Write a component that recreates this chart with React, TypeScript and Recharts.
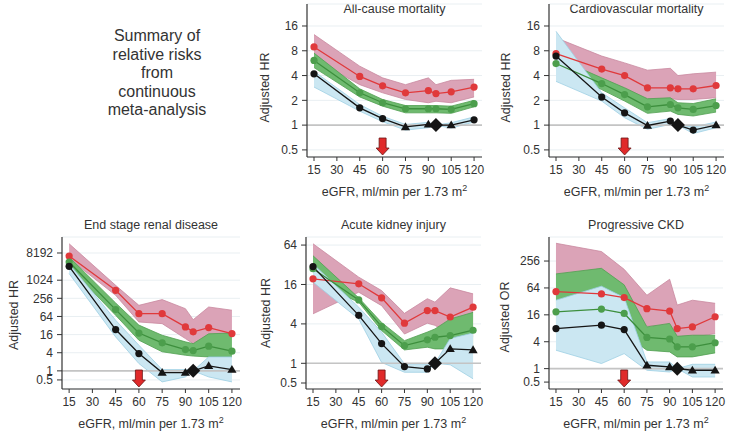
import React from 'react';
import { ComposedChart, Line, Area, XAxis, YAxis, CartesianGrid, ReferenceLine, ReferenceDot } from 'recharts';

// ---------- shared categories / ticks ----------
const egfr = [15, 45, 60, 75, 90, 95, 105, 120];
const xTicks = [15, 30, 45, 60, 75, 90, 105, 120];
const refEgfr = 95;
const arrowEgfr = 60;
const xLabelText = 'eGFR, ml/min per 1.73 m';
const summaryLines = ['Summary of', 'relative risks', 'from', 'continuous', 'meta-analysis'];

// ---------- All-cause mortality ----------
const acmRed = [8.9, 3.9, 3.0, 2.47, 2.63, 2.42, 2.54, 2.9];
const acmRedLo = [6.3, 3.1, 2.47, 2.05, 1.87, 1.95, 1.87, 2.2];
const acmRedHi = [12.6, 5.2, 3.75, 3.1, 3.75, 3.1, 3.5, 3.6];
const acmGreen = [6.1, 2.47, 1.87, 1.58, 1.58, 1.58, 1.55, 1.82];
const acmGreenLo = [5.0, 2.2, 1.7, 1.41, 1.41, 1.41, 1.39, 1.67];
const acmGreenHi = [7.5, 2.76, 2.05, 1.73, 1.73, 1.73, 1.7, 2.0];
const acmBlack = [4.2, 1.62, 1.2, 0.95, 1.02, 1, 1.0, 1.16];
const acmBlackLo = [2.9, 1.48, 1.1, 0.87, 0.93, 1, 0.92, 1.09];
const acmBlackHi = [4.5, 1.78, 1.28, 1.02, 1.08, 1, 1.07, 1.26];
const acmTicks = [0.5, 1, 2, 4, 8, 16];

// ---------- Cardiovascular mortality ----------
const cvmRed = [7.4, 4.8, 4.0, 2.84, 2.84, 2.76, 2.76, 3.03];
const cvmRedLo = [5.2, 3.4, 2.84, 2.09, 2.09, 2.05, 2.05, 2.15];
const cvmRedHi = [11.5, 6.9, 5.7, 4.65, 4.9, 4.0, 4.2, 4.4];
const cvmGreen = [5.6, 3.2, 2.35, 1.67, 1.78, 1.62, 1.55, 1.73];
const cvmGreenLo = [4.6, 2.7, 1.96, 1.39, 1.48, 1.35, 1.29, 1.44];
const cvmGreenHi = [6.6, 3.75, 2.84, 2.09, 2.15, 1.87, 1.83, 2.09];
const cvmBlack = [6.9, 2.19, 1.41, 0.99, 1.12, 1, 0.87, 1.0];
const cvmBlackLo = [3.4, 1.96, 1.23, 0.89, 1.02, 1, 0.79, 0.93];
const cvmBlackHi = [13.8, 2.47, 1.62, 1.07, 1.2, 1, 0.95, 1.09];
const cvmTicks = [0.5, 1, 2, 4, 8, 16];

// ---------- End stage renal disease ----------
const esrdRed = [6500, 471, 79, 79, 28.8, 19.7, 27.3, 17.3];
const esrdRedLo = [5300, 322, 42, 37, 11.8, 8, 16, 14];
const esrdRedHi = [16600, 690, 150, 232, 116, 50, 132, 103];
const esrdGreen = [4100, 108, 18, 8.5, 5.1, 4.7, 6.6, 4.5];
const esrdGreenLo = [2800, 70, 10.4, 4.3, 3.3, 3.1, 2.9, 2.8];
const esrdGreenHi = [6000, 180, 33, 15.2, 9.2, 8, 17, 18];
const esrdBlack = [2950, 23.5, 3.75, 0.88, 0.88, 1, 1.46, 1.1];
const esrdBlackLo = [1700, 13.4, 1.75, 0.43, 0.63, 1, 0.63, 0.43];
const esrdBlackHi = [3600, 48, 7.1, 1.1, 1.1, 1, 2.9, 2.9];
const esrdTicks = [0.5, 1, 4, 16, 64, 256, 1024, 8192];

// ---------- Acute kidney injury ----------
const akiRed = [19.5, 16.4, 10, 4.1, 6.4, 6.4, 5.1, 7.2];
const akiRedLo = [5.7, 12.2, 7.6, 2.8, 4.1, 3.8, 2.75, 2.56];
const akiRedHi = [67, 20.7, 12.9, 5.8, 9.7, 8.6, 14.2, 11.5];
const akiGreen = [27.8, 9.3, 3.64, 1.86, 2.28, 2.5, 2.65, 3.2];
const akiGreenLo = [17.4, 8.6, 3.16, 1.6, 1.76, 1.66, 1.66, 1.76];
const akiGreenHi = [44, 10, 4.2, 2.22, 3.0, 3.35, 4.76, 6.0];
const akiBlack = [30, 5.4, 2.0, 0.89, 0.82, 1, 1.66, 1.6];
const akiBlackLo = [17.4, 4.76, 1.03, 0.73, 0.73, 1, 0.95, 0.58];
const akiBlackHi = [33, 7.2, 3.0, 0.98, 0.98, 1, 2.4, 2.9];
const akiTicks = [0.5, 1, 4, 16, 64];

// ---------- Progressive CKD ----------
const pckdRed = [53, 47, 39, 22, 19.4, 7.9, 8.6, 14.5];
const pckdRedLo = [30, 28, 25, 8.9, 9.4, 5.1, 5.0, 6.1];
const pckdRedHi = [640, 418, 167, 44, 100, 26.5, 34, 29];
const pckdGreen = [18.7, 21.5, 17.2, 5.0, 4.6, 3.07, 3.07, 3.8];
const pckdGreenLo = [6, 6, 6, 2.58, 2.37, 1.83, 1.83, 2.25];
const pckdGreenHi = [132, 176, 75, 8.6, 10.3, 5.3, 5.6, 5.6];
const pckdBlack = [7.9, 9.4, 7.5, 1.19, 1.09, 1, 0.92, 0.92];
const pckdBlackLo = [2.58, 1.3, 2.17, 0.92, 0.84, 1, 0.65, 0.65];
const pckdBlackHi = [34, 70, 39, 1.41, 1.41, 1, 1.25, 1.25];
const pckdTicks = [0.5, 1, 4, 16, 64, 256];

// ---------- styling ----------
const FONT = '"Liberation Sans", Arial, Helvetica, sans-serif';
const TEXT = '#333';
const RED = '#e0393b';
const RED_BAND = '#dba3b7';
const RED_BAND_EDGE = '#c9899f';
const GREEN = '#3d8f3d';
const GREEN_DOT = '#4c9e4c';
const GREEN_BAND = '#6fba6f';
const GREEN_BAND_EDGE = '#52a052';
const BLACK = '#151515';
const BLUE_BAND = '#cbe7f2';
const BLUE_BAND_EDGE = '#9dcfe3';

type Panel = {
  title: string;
  yLabel: string;
  ticks: number[];
  domain: [number, number];
  plot: { left: number; top: number; width: number; height: number };
  titleY: number;
  yLabelDist: number;
  yLabelShift: number;
  red: number[]; redLo: number[]; redHi: number[];
  green: number[]; greenLo: number[]; greenHi: number[];
  black: number[]; blackLo: number[]; blackHi: number[];
};

const panels: Panel[] = [
  {
    title: 'All-cause mortality', yLabel: 'Adjusted HR', ticks: acmTicks, domain: [0.41, 29.6],
    plot: { left: 307, top: 4, width: 175, height: 153 }, titleY: 9, yLabelDist: 42, yLabelShift: 7,
    red: acmRed, redLo: acmRedLo, redHi: acmRedHi, green: acmGreen, greenLo: acmGreenLo, greenHi: acmGreenHi,
    black: acmBlack, blackLo: acmBlackLo, blackHi: acmBlackHi,
  },
  {
    title: 'Cardiovascular mortality', yLabel: 'Adjusted HR', ticks: cvmTicks, domain: [0.41, 29.6],
    plot: { left: 549, top: 4, width: 175, height: 153 }, titleY: 9, yLabelDist: 43, yLabelShift: 7,
    red: cvmRed, redLo: cvmRedLo, redHi: cvmRedHi, green: cvmGreen, greenLo: cvmGreenLo, greenHi: cvmGreenHi,
    black: cvmBlack, blackLo: cvmBlackLo, blackHi: cvmBlackHi,
  },
  {
    title: 'End stage renal disease', yLabel: 'Adjusted HR', ticks: esrdTicks, domain: [0.25, 27800],
    plot: { left: 62, top: 237, width: 178, height: 152 }, titleY: 225, yLabelDist: 48, yLabelShift: 2,
    red: esrdRed, redLo: esrdRedLo, redHi: esrdRedHi, green: esrdGreen, greenLo: esrdGreenLo, greenHi: esrdGreenHi,
    black: esrdBlack, blackLo: esrdBlackLo, blackHi: esrdBlackHi,
  },
  {
    title: 'Acute kidney injury', yLabel: 'Adjusted HR', ticks: akiTicks, domain: [0.405, 85],
    plot: { left: 306, top: 237, width: 175, height: 152 }, titleY: 225, yLabelDist: 40, yLabelShift: 0,
    red: akiRed, redLo: akiRedLo, redHi: akiRedHi, green: akiGreen, greenLo: akiGreenLo, greenHi: akiGreenHi,
    black: akiBlack, blackLo: akiBlackLo, blackHi: akiBlackHi,
  },
  {
    title: 'Progressive CKD', yLabel: 'Adjusted OR', ticks: pckdTicks, domain: [0.35, 884],
    plot: { left: 549, top: 237, width: 174, height: 152 }, titleY: 225, yLabelDist: 44, yLabelShift: 4,
    red: pckdRed, redLo: pckdRedLo, redHi: pckdRedHi, green: pckdGreen, greenLo: pckdGreenLo, greenHi: pckdGreenHi,
    black: pckdBlack, blackLo: pckdBlackLo, blackHi: pckdBlackHi,
  },
];

const X_DOMAIN: [number, number] = [10.4, 125.2];
const Y_AXIS_W = 60;
const M_TOP = 5;
const M_RIGHT = 10;
const X_AXIS_H = 50;
const TICK_FS = 12;

const circleDot = (color: string, prefix: string) => (props: any) => {
  const { cx, cy, index } = props;
  if (cx == null || cy == null) return <g key={`${prefix}-${index}`} />;
  return <circle key={`${prefix}-${index}`} cx={cx} cy={cy} r={3.6} fill={color} stroke="none" />;
};

const blackDot = (prefix: string) => (props: any) => {
  const { cx, cy, index, payload } = props;
  const key = `${prefix}-${index}`;
  if (cx == null || cy == null) return <g key={key} />;
  if (payload.x === refEgfr) {
    const s = 7;
    return <path key={key} d={`M${cx},${cy - s} L${cx + s},${cy} L${cx},${cy + s} L${cx - s},${cy} Z`} fill={BLACK} />;
  }
  if (payload.bLo <= 1 && payload.bHi >= 1) {
    return <path key={key} d={`M${cx},${cy - 4.6} L${cx + 4.6},${cy + 3.2} L${cx - 4.6},${cy + 3.2} Z`} fill={BLACK} />;
  }
  return <circle key={key} cx={cx} cy={cy} r={3.6} fill={BLACK} />;
};

const ArrowShape = (props: any) => {
  const { cx, cy } = props;
  if (cx == null || cy == null) return <g />;
  const d = `M${cx - 3.5},${cy - 19} L${cx + 3.5},${cy - 19} L${cx + 3.5},${cy - 9} L${cx + 6.5},${cy - 9} L${cx},${cy - 2} L${cx - 6.5},${cy - 9} L${cx - 3.5},${cy - 9} Z`;
  return <path d={d} fill="#e02a2a" stroke="#6a1515" strokeWidth={0.8} />;
};

function PanelChart({ p, idx }: { p: Panel; idx: number }) {
  const rows = egfr.map((x, i) => ({
    x,
    r: p.red[i], rLo: p.redLo[i], rHi: p.redHi[i],
    g: p.green[i], gLo: p.greenLo[i], gHi: p.greenHi[i],
    b: p.black[i], bLo: p.blackLo[i], bHi: p.blackHi[i],
  }));
  const width = Y_AXIS_W + p.plot.width + M_RIGHT;
  const height = M_TOP + p.plot.height + X_AXIS_H;
  const left = p.plot.left - Y_AXIS_W;
  const top = p.plot.top - M_TOP;
  const tickStyle = { fill: TEXT, fontSize: TICK_FS, fontFamily: FONT };

  return (
    <>
      <div
        style={{
          position: 'absolute', left: p.plot.left - 20, top: p.titleY - 8, width: p.plot.width + 40,
          textAlign: 'center', fontFamily: FONT, fontSize: 12.5, color: TEXT, lineHeight: '16px', whiteSpace: 'nowrap',
        }}
      >
        {p.title}
      </div>
      <div style={{ position: 'absolute', left, top }}>
        <ComposedChart width={width} height={height} data={rows} margin={{ top: M_TOP, right: M_RIGHT, bottom: 0, left: 0 }}>
          <CartesianGrid vertical={false} stroke="#e9eff2" strokeWidth={1} />
          <XAxis
            type="number" dataKey="x" domain={X_DOMAIN} ticks={xTicks} interval={0} allowDataOverflow
            height={X_AXIS_H} tick={tickStyle} tickSize={4} tickMargin={4}
            tickLine={{ stroke: '#333' }} axisLine={{ stroke: '#333', strokeWidth: 1.2 }}
            label={{
              content: (lp: any) => {
                const vb = lp.viewBox || {};
                const cx = vb.x + vb.width / 2;
                const cy = vb.y + 39;
                return (
                  <text x={cx} y={cy} textAnchor="middle" fill={TEXT} fontSize={12.5} fontFamily={FONT}>
                    {xLabelText}
                    <tspan dy={-5} fontSize={9}>2</tspan>
                  </text>
                );
              },
            }}
          />
          <YAxis
            type="number" scale="log" domain={p.domain} allowDataOverflow ticks={p.ticks} interval={0}
            width={Y_AXIS_W} tick={tickStyle} tickSize={5} tickMargin={4}
            tickLine={{ stroke: '#333' }} axisLine={{ stroke: '#333', strokeWidth: 1.2 }}
            tickFormatter={(v: number) => String(v)}
            label={{
              content: (lp: any) => {
                const vb = lp.viewBox || {};
                const cx = vb.x + vb.width - p.yLabelDist;
                const cy = vb.y + vb.height / 2 + p.yLabelShift;
                return (
                  <text x={cx} y={cy} transform={`rotate(-90 ${cx} ${cy})`} textAnchor="middle" dominantBaseline="central"
                    fill={TEXT} fontSize={12.5} fontFamily={FONT}>
                    {p.yLabel}
                  </text>
                );
              },
            }}
          />
          <ReferenceLine y={1} stroke="#c4c4c4" strokeWidth={1.6} ifOverflow="visible" />
          <Area type="linear" dataKey={(d: any) => [d.rLo, d.rHi]} stroke={RED_BAND_EDGE} strokeWidth={0.8}
            fill={RED_BAND} fillOpacity={1} dot={false} activeDot={false} isAnimationActive={false} />
          <Area type="linear" dataKey={(d: any) => [d.gLo, d.gHi]} stroke={GREEN_BAND_EDGE} strokeWidth={0.8}
            fill={GREEN_BAND} fillOpacity={1} dot={false} activeDot={false} isAnimationActive={false} />
          <Area type="linear" dataKey={(d: any) => [d.bLo, d.bHi]} stroke={BLUE_BAND_EDGE} strokeWidth={0.8}
            fill={BLUE_BAND} fillOpacity={1} dot={false} activeDot={false} isAnimationActive={false} />
          <Line type="linear" dataKey="r" stroke={RED} strokeWidth={1.3} dot={circleDot(RED, `r${idx}`)}
            activeDot={false} isAnimationActive={false} />
          <Line type="linear" dataKey="g" stroke={GREEN} strokeWidth={1.3} dot={circleDot(GREEN_DOT, `g${idx}`)}
            activeDot={false} isAnimationActive={false} />
          <Line type="linear" dataKey="b" stroke={BLACK} strokeWidth={1.3} dot={blackDot(`b${idx}`)}
            activeDot={false} isAnimationActive={false} />
          <ReferenceDot x={arrowEgfr} y={p.domain[0]} r={0} ifOverflow="visible" shape={ArrowShape} />
        </ComposedChart>
      </div>
    </>
  );
}

export default function App() {
  return (
    <div style={{ position: 'absolute', left: 0, top: 0, width: 730, height: 433, background: '#fff', overflow: 'hidden' }}>
      <div
        style={{
          position: 'absolute', left: 72, top: 27, width: 170, textAlign: 'center',
          fontFamily: FONT, fontSize: 16, lineHeight: '18.6px', color: TEXT,
        }}
      >
        {summaryLines.map((l) => (
          <div key={l}>{l}</div>
        ))}
      </div>
      {panels.map((p, i) => (
        <PanelChart key={p.title} p={p} idx={i} />
      ))}
    </div>
  );
}
